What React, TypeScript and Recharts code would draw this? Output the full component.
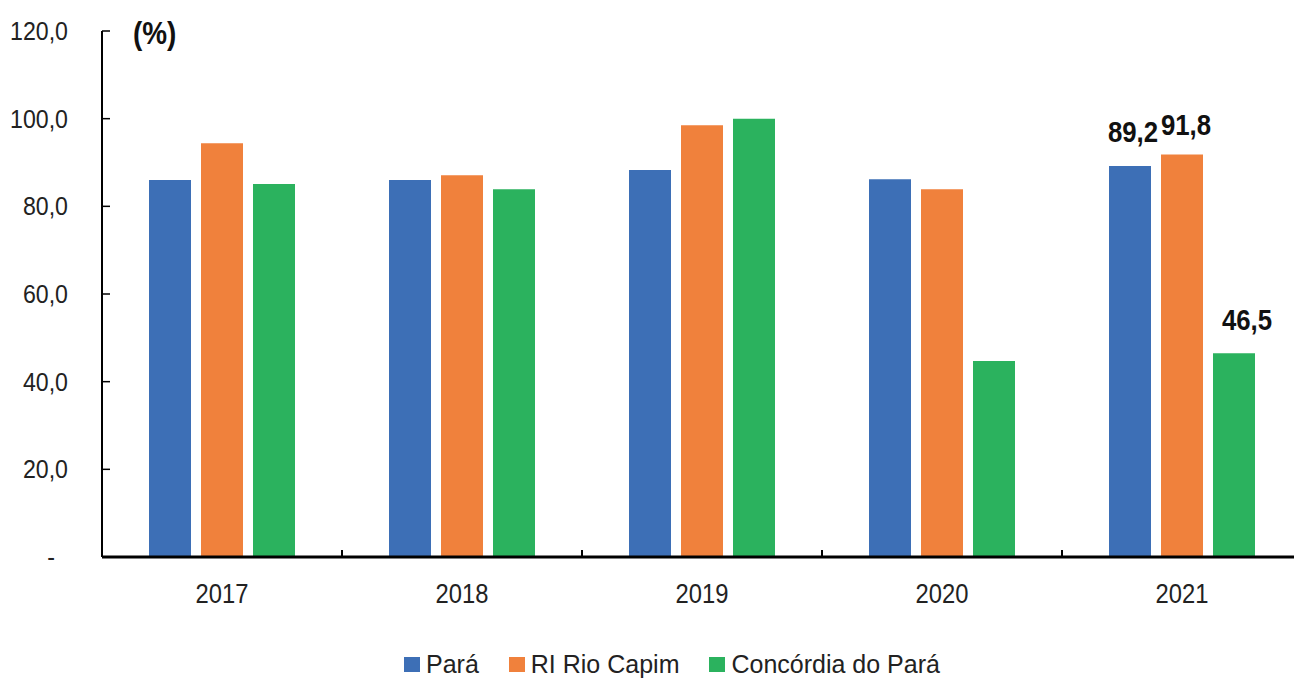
import React from "react";
import { BarChart, Bar, XAxis, YAxis, LabelList } from "recharts";

const years = ["2017", "2018", "2019", "2020", "2021"];
const para = [86.0, 86.0, 88.3, 86.2, 89.2];
const rioCapim = [94.4, 87.1, 98.5, 83.9, 91.8];
const concordia = [85.1, 83.9, 100.0, 44.7, 46.5];
const yTicks = [0, 20, 40, 60, 80, 100, 120];
const labeledYear = "2021";

const FONT = "'Liberation Sans', Arial, sans-serif";

const series = [
  { key: "para", name: "Pará", values: para, color: "#3D6FB6", ldx: 3, ldy: -24 },
  { key: "capim", name: "RI Rio Capim", values: rioCapim, color: "#F0813C", ldx: 4, ldy: -20 },
  { key: "conc", name: "Concórdia do Pará", values: concordia, color: "#2BB25E", ldx: 13, ldy: -23 },
];

const data = years.map((y, i) => {
  const row: any = { year: y };
  series.forEach((s) => {
    row[s.key] = s.values[i];
    row[s.key + "Label"] = y === labeledYear ? s.values[i] : null;
  });
  return row;
});

const fmt = (v: number) => (v === 0 ? "-" : v.toFixed(1).replace(".", ","));

const YTick = (props: any) => {
  const { x, y, payload } = props;
  const isZero = payload.value === 0;
  return (
    <g>
      <line x1={x} x2={x + 8} y1={y} y2={y} stroke="#000" strokeWidth={1.5} />
      <text
        transform={`translate(${x - 34 - (isZero ? 13 : 0)},${y + 9}) scale(0.89,1)`}
        x={0}
        y={0}
        textAnchor="end"
        fontFamily={FONT}
        fontSize={26}
        fill="#222"
      >
        {fmt(payload.value)}
      </text>
    </g>
  );
};

const XTick = (props: any) => {
  const { x, y, payload } = props;
  const off = payload.offset || 120;
  return (
    <g>
      <line x1={x - off} x2={x - off} y1={y} y2={y - 7} stroke="#000" strokeWidth={2} />
      <text
        transform={`translate(${x},${y + 46}) scale(0.88,1)`}
        x={0}
        y={0}
        textAnchor="middle"
        fontFamily={FONT}
        fontSize={27}
        fill="#222"
      >
        {payload.value}
      </text>
    </g>
  );
};

const makeLabel = (dx: number, dy: number) => (props: any) => {
  const { x, y, width, value } = props;
  if (value === null || value === undefined) return null;
  return (
    <text
      transform={`translate(${x + width / 2 + dx},${y + dy}) scale(0.86,1)`}
      x={0}
      y={0}
      textAnchor="middle"
      fontFamily={FONT}
      fontWeight="bold"
      fontSize={30}
      fill="#111"
    >
      {fmt(value)}
    </text>
  );
};

export default function App() {
  return (
    <div style={{ position: "absolute", left: 0, top: 0, width: 1294, height: 679, overflow: "hidden", background: "#fff" }}>
      <BarChart
        width={1310}
        height={679}
        data={data}
        margin={{ top: 31, right: 8, bottom: 72, left: 0 }}
        barCategoryGap={47}
        barGap={10}
      >
        <XAxis
          dataKey="year"
          height={50}
          tickLine={false}
          tickSize={0}
          tickMargin={0}
          tick={<XTick />}
          axisLine={{ stroke: "#000", strokeWidth: 3 }}
          interval={0}
        />
        <YAxis
          width={102}
          domain={[0, 120]}
          ticks={yTicks}
          tickLine={false}
          tickSize={0}
          tickMargin={0}
          tick={<YTick />}
          axisLine={{ stroke: "#000", strokeWidth: 2 }}
          interval={0}
        />
        {series.map((s) => (
          <Bar key={s.key} dataKey={s.key} name={s.name} fill={s.color} isAnimationActive={false}>
            <LabelList dataKey={s.key + "Label"} content={makeLabel(s.ldx, s.ldy)} />
          </Bar>
        ))}
      </BarChart>
      <svg style={{ position: "absolute", left: 0, top: 0 }} width={300} height={60}>
        <text
          transform="translate(133,44) scale(0.9,1)"
          x={0}
          y={0}
          fontFamily={FONT}
          fontWeight="bold"
          fontSize={31}
          fill="#111"
        >
          (%)
        </text>
      </svg>
      <div
        style={{
          position: "absolute",
          left: 404,
          top: 649,
          display: "flex",
          fontFamily: FONT,
          fontSize: 25,
          color: "#222",
          lineHeight: "30px",
        }}
      >
        {series.map((s, i) => (
          <div key={s.key} style={{ display: "flex", alignItems: "center", marginLeft: i === 0 ? 0 : 30 }}>
            <span style={{ display: "inline-block", width: 16, height: 15, background: s.color, marginRight: 6 }} />
            <span>{s.name}</span>
          </div>
        ))}
      </div>
    </div>
  );
}
